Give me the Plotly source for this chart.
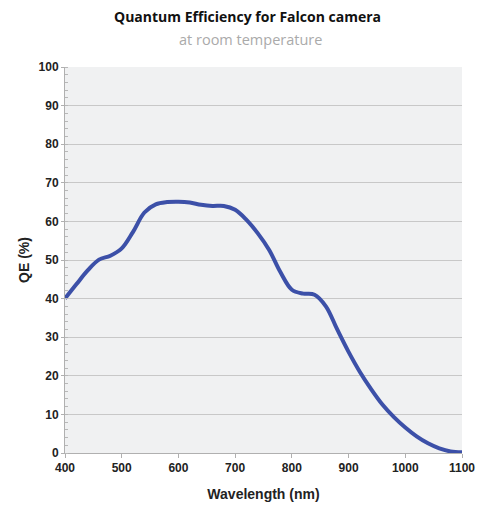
import plotly.graph_objects as go

wavelength = [400, 420, 440, 460, 480, 500, 520, 540, 560, 580, 600, 620, 640, 660, 680,
              700, 720, 740, 760, 780, 800, 820, 840, 860, 880, 900, 920, 940, 960, 980,
              1000, 1020, 1040, 1060, 1080, 1100]
qe = [40, 43.7, 47.3, 50.1, 51.1, 53.0, 57.3, 62.3, 64.4, 65.0, 65.1, 64.9, 64.3, 64, 64,
      63, 60.4, 56.9, 52.6, 46.8, 42.3, 41.3, 41.0, 38, 32, 26.2, 21, 16.5, 12.5, 9.3,
      6.6, 4.3, 2.5, 1.2, 0.4, 0.2]

x_ticks = [400, 500, 600, 700, 800, 900, 1000, 1100]
y_ticks = [0, 10, 20, 30, 40, 50, 60, 70, 80, 90, 100]

fig = go.Figure()
fig.add_trace(go.Scatter(x=wavelength, y=qe, mode="lines",
                         line=dict(color="#3c50a8", width=4, shape="spline", smoothing=1.0),
                         showlegend=False, hoverinfo="skip"))

fig.update_layout(
    width=484, height=506,
    margin=dict(l=65, r=22, t=67, b=53),
    paper_bgcolor="white", plot_bgcolor="#f0f1f2",
)
fig.add_annotation(text="<b>Quantum Efficiency for Falcon camera</b>", xref="paper", yref="paper",
                   x=(247 - 65) / 397, y=1 + (67 - 17) / 386, showarrow=False,
                   font=dict(family="Open Sans", size=14, color="#111111"), xanchor="center", yanchor="middle")
fig.add_annotation(text="at room temperature", xref="paper", yref="paper",
                   x=(250 - 65) / 397, y=1 + (67 - 40) / 386, showarrow=False,
                   font=dict(family="Open Sans", size=14.5, color="#aaaaaa"), xanchor="center", yanchor="middle")

fig.update_xaxes(range=[400, 1100], tickvals=x_ticks, ticktext=[str(v) for v in x_ticks],
                 showgrid=False, zeroline=False, automargin=False,
                 showline=True, linecolor="#b0b0b0", linewidth=1,
                 ticks="outside", ticklen=4, tickcolor="#b0b0b0",
                 tickfont=dict(family="Liberation Sans", size=12, color="#222222", weight="bold"),
                 title=dict(text="<b>Wavelength (nm)</b>", standoff=14,
                            font=dict(family="Liberation Sans", size=14, color="#222222")))
fig.update_yaxes(range=[0, 100], tickvals=y_ticks, ticktext=[str(v) for v in y_ticks],
                 showgrid=True, gridcolor="#c8c8c8", gridwidth=1.2, zeroline=False, automargin=False,
                 showline=True, linecolor="#b0b0b0", linewidth=1,
                 ticks="outside", ticklen=3, tickcolor="#b0b0b0",
                 minor=dict(dtick=2, ticks="inside", ticklen=3, tickcolor="#b8b8b8", showgrid=False),
                 tickfont=dict(family="Liberation Sans", size=12, color="#222222", weight="bold"),
                 title=dict(text="<b>QE (%)</b>", standoff=5,
                            font=dict(family="Liberation Sans", size=14, color="#222222")))

fig.write_html("out.html", config={"displayModeBar": False},
               post_script="document.body.style.margin='0';document.body.style.overflow='hidden';")
